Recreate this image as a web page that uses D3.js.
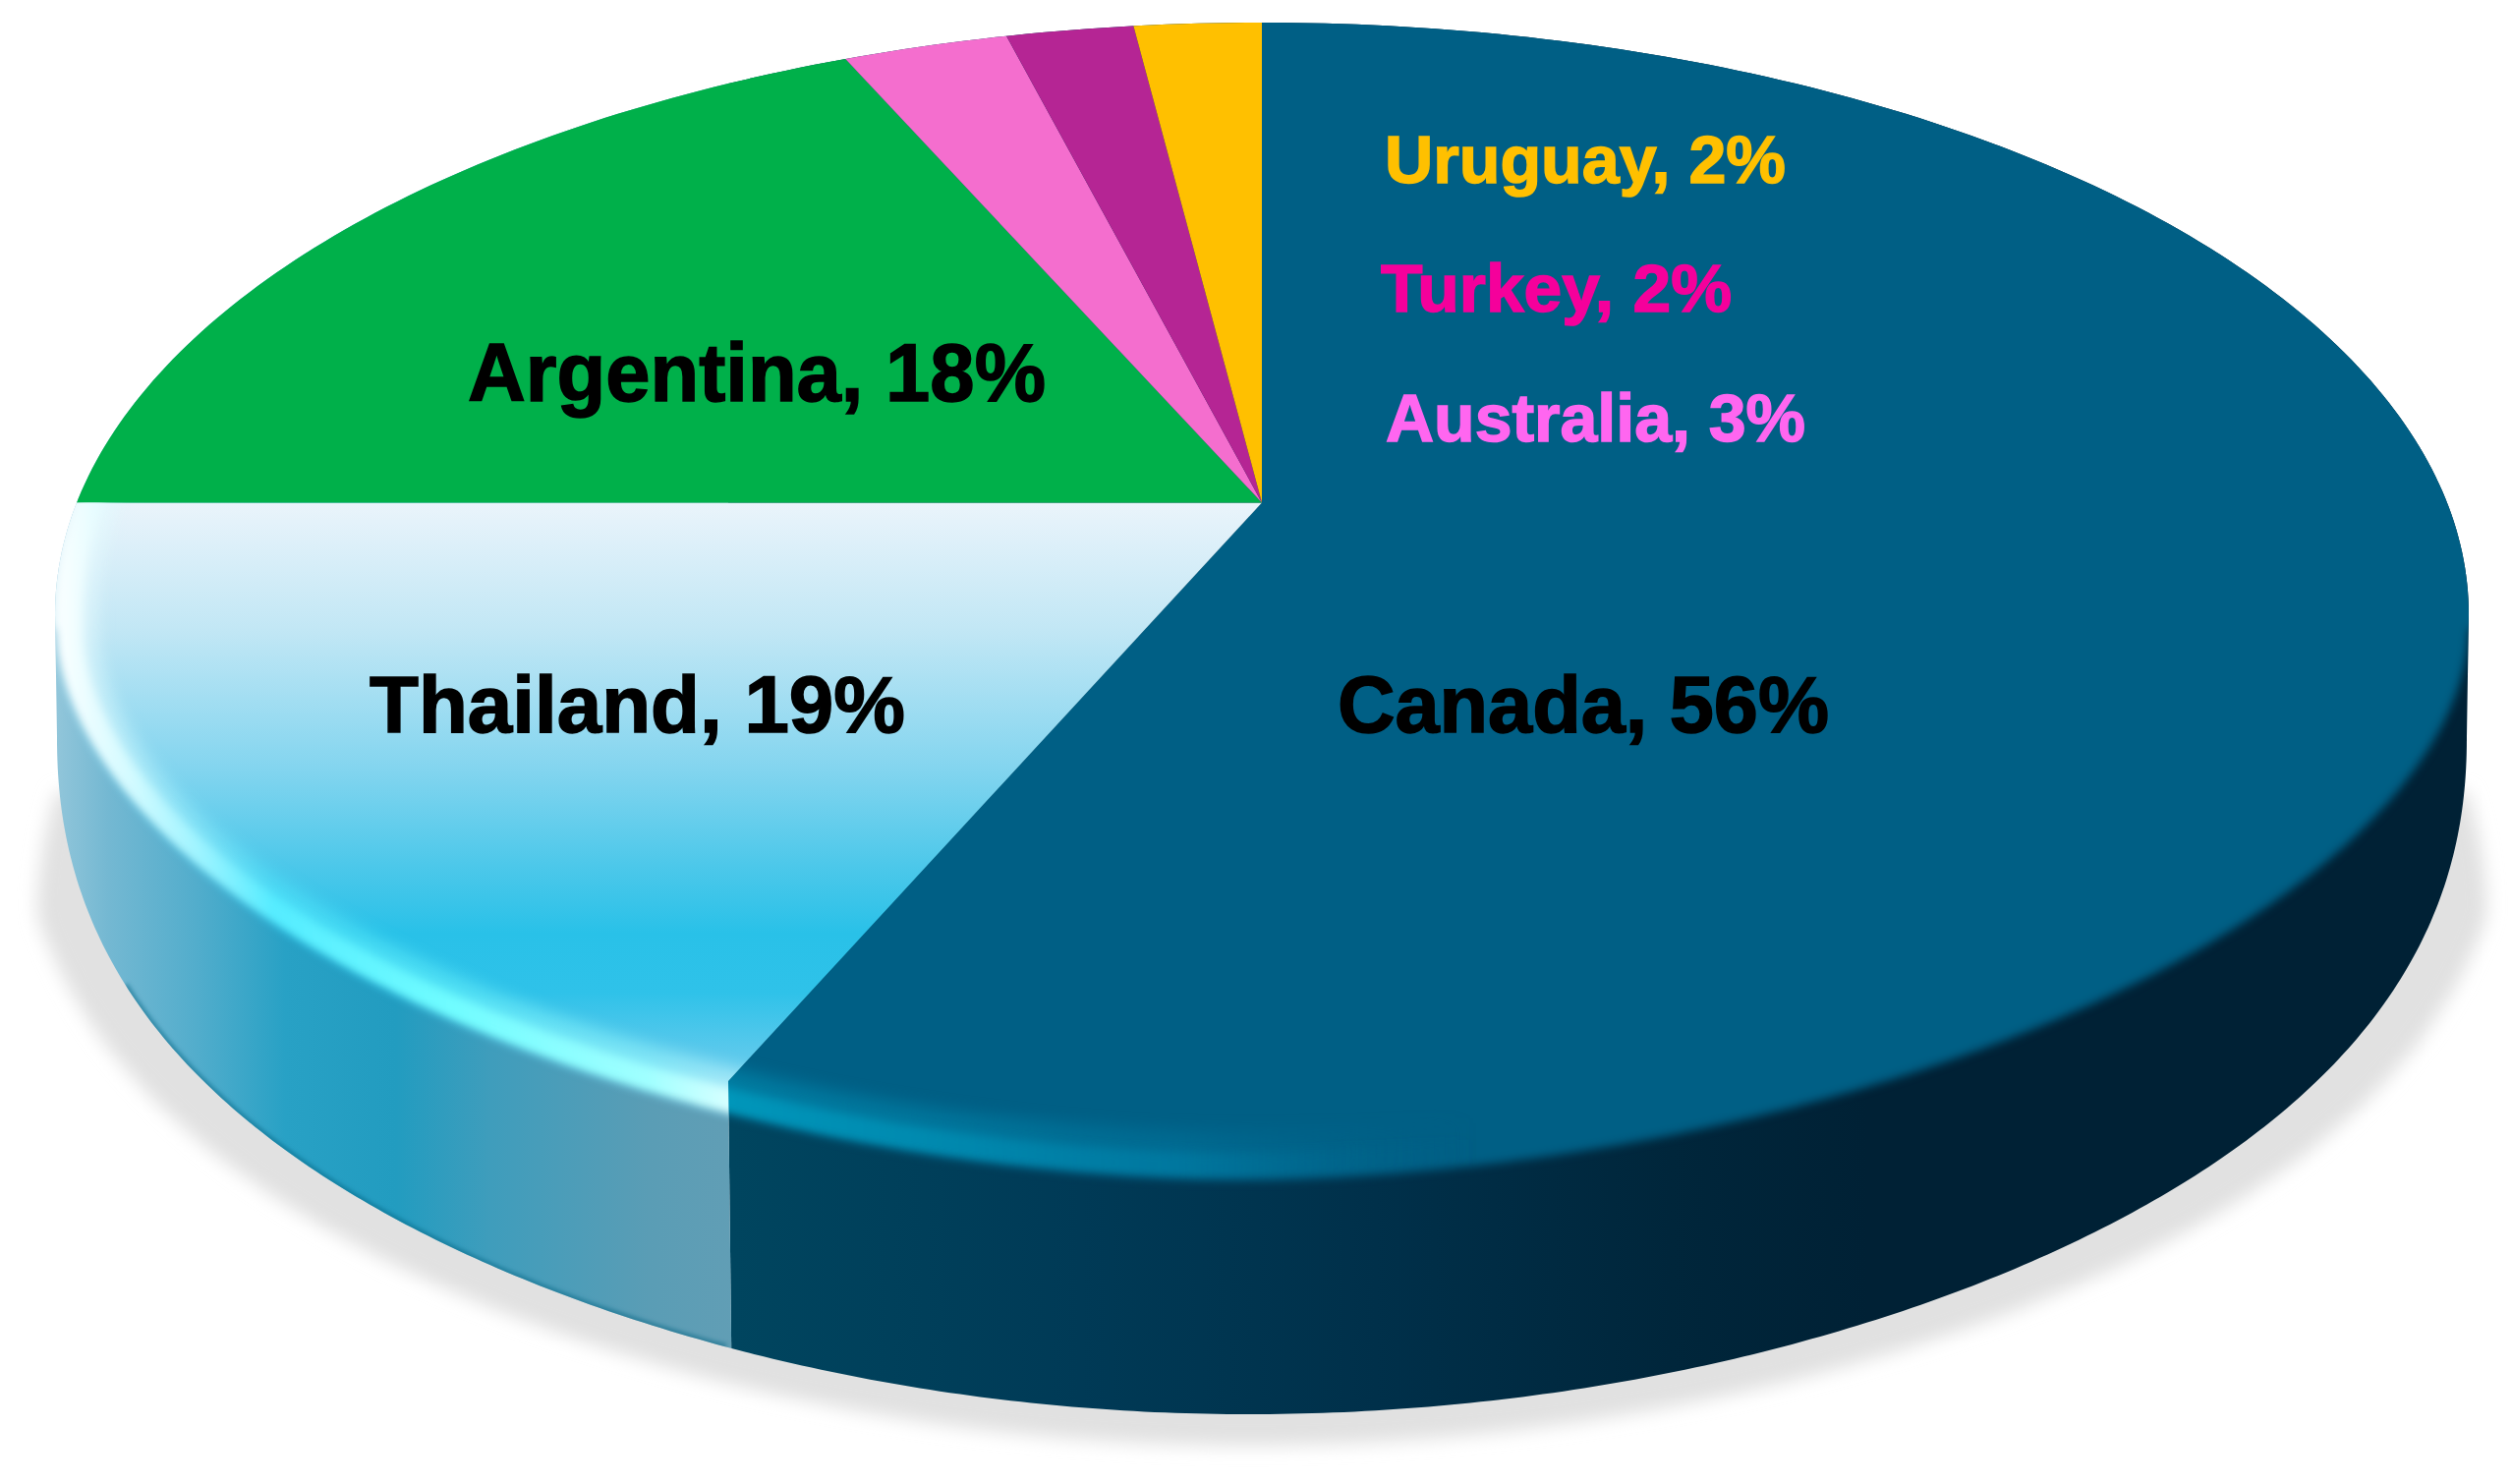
<!DOCTYPE html>
<html><head><meta charset="utf-8">
<script src="https://cdn.jsdelivr.net/npm/d3@7/dist/d3.min.js"></script>
<style>html,body{margin:0;padding:0;background:#fff}svg{display:block}</style>
</head><body><svg id="c" width="2555" height="1510"></svg>
<script>
// ---- data (clockwise from 12 o'clock) ----
const countries = ["Canada","Thailand","Argentina","Australia","Turkey","Uruguay"];
const shares    = [56.5, 18.5, 18.4, 2.6, 2.0, 2.0];
const labels    = ["Canada, 56%","Thailand, 19%","Argentina, 18%","Australia, 3%","Turkey, 2%","Uruguay, 2%"];
const faceFills = ["#005f85","url(#thaiFace)","#00b04a","#f46ece","#b52594","#ffc000"];
const labelInk  = ["#000","#000","#000","#ff66f0","#f5009b","#ffc000"];
// ---- label placement ----
const labelX    = [1361,376,476,1410,1405,1409];
const labelY    = [745,745,408,449,317,186];
const labelW    = [500,545,588,427,357,408];
const labelSize = [81,81,84,68,68,68];

const svg = d3.select("#c"), defs = svg.append("defs");
const line = d3.line();
const apex = [1284,511.5], K = .163, A = 1211, B = 568;
const CX = 1284, CY = 625, RX = 1228, RTOP = 602;
const project = (t, s = 1) => { const u = Math.sin(t), v = -Math.cos(t), w = 1 - K*v;
  return [apex[0] + s*A*u/w, apex[1] + s*B*v/w]; };
const pie = d3.pie().sort(null)(shares);

// the Canada/Thailand edge runs straight to the bevel, then drops down the wall
const edge = project(pie[0].endAngle), bevelX = 741;
const bend = [bevelX, apex[1] + (edge[1]-apex[1])*(bevelX-apex[0])/(edge[0]-apex[0])];
const foot = [bevelX+7, 1700];
const arcPts = d => d3.range(0,41).map(i => project(d.startAngle + (d.endAngle-d.startAngle)*i/40, 1.5));
const wedgePts = (d,i) => {
  if (i === 0) return [apex, ...arcPts(d).filter(p => p[0] > foot[0] || p[1] < 900), foot, bend];
  if (i === 1) return [apex, bend, foot, ...arcPts(d).filter(p => p[0] < bevelX)];
  return [apex, ...arcPts(d)];
};

const phis = d3.range(-180,181).map(i => i/180*Math.PI/2);   // left to right, dense at the ends
// front rim of the top face
const rim = (dx=0, dy=0) => phis.map(f => { const d = Math.sin(f), s = Math.abs(d), p = 1.85,
   rx = (d<0 ? 1199 : 1257) - dx;
   return [1255 + rx*d, 640 + (561-dy)*Math.pow(1-Math.pow(s,p),1/p)]; });
// lower edge of the side wall
const base = () => phis.map(f => { const d = Math.sin(f), s = Math.abs(d), p = 2+.15*s*s*s,
   rx = d<0 ? 1212 : 1240;
   return [1270 + rx*d, 750 + 689*Math.pow(1-Math.pow(s,p),1/p)]; });
const topArc = (rx=RX, a0=Math.PI, a1=0, ry=RTOP) => d3.range(0,241).map(i => { const a = a0+(a1-a0)*i/240; return [CX+rx*Math.cos(a), CY-ry*Math.sin(a)]; });

defs.append("clipPath").attr("id","sil").append("path").attr("d", line([...topArc(), ...base().reverse()])+"Z");
const hGrad = (id, stops) => { const g = defs.append("linearGradient").attr("id",id).attr("gradientUnits","userSpaceOnUse")
   .attr("x1",0).attr("x2",2555).attr("y1",0).attr("y2",0);
   stops.forEach(([x,c,o]) => g.append("stop").attr("offset",x/2555).attr("stop-color",c).attr("stop-opacity",o===undefined?1:o)); };
const vg = defs.append("linearGradient").attr("id","thaiFace").attr("gradientUnits","userSpaceOnUse")
   .attr("x1",0).attr("x2",0).attr("y1",511).attr("y2",1130);
[[511,"#eaf4fb"],[640,"#c2e7f5"],[780,"#84d5ef"],[880,"#4dc8ea"],[950,"#29c1e8"],[1010,"#2fc2e9"],[1070,"#5ac9ec"],[1130,"#78d2f1"]]
  .forEach(([y,c]) => vg.append("stop").attr("offset",(y-511)/619).attr("stop-color",c));
hGrad("thaiSide",[[56,"#92c6da"],[110,"#74b8d2"],[200,"#52adcc"],[290,"#28a1c5"],[403,"#229cc0"],[500,"#3f9dbc"],[660,"#5a9db5"],[746,"#619eb5"]]);
hGrad("canSide",[[746,"#00455f"],[1100,"#003a56"],[1400,"#00304a"],[1700,"#00263b"],[1900,"#002135"],[2555,"#002135"]]);
hGrad("thaiBand",[[50,"#ffffff"],[130,"#d5fbff"],[200,"#a0f4ff"],[279,"#55ecff"],[457,"#6ffcff"],[660,"#a0ffff"],[745,"#d8ffff"]]);
hGrad("canBand",[[740,"#0096ba"],[1000,"#0086ac"],[1200,"#007aa2",.8],[1500,"#005f85",0],[2555,"#005f85",0]]);
const blur = (id, s) => defs.append("filter").attr("id",id).attr("x","-5%").attr("y","-5%").attr("width","110%").attr("height","110%")
   .append("feGaussianBlur").attr("stdDeviation",s);
blur("b2",2); blur("b5",5); blur("b8",8); blur("b9",9);
// region above the front rim, softened so the rim melts into the side
defs.append("mask").attr("id","face").attr("maskUnits","userSpaceOnUse")
   .attr("x",0).attr("y",-200).attr("width",2555).attr("height",1900)
   .append("path").attr("fill","#fff").attr("filter","url(#b5)")
   .attr("d", line([...rim(),[2700,640],[2700,-150],[-100,-150],[-100,640]])+"Z");

// drop shadow, tapering into the wall near the top
const shadowPts = base().filter(p => p[1] > 770).map(([x,y]) => {
  const k = 1 + .035*Math.min(1, (y-770)/130); return [1270+(x-1270)*k, y+32]; });
svg.append("path").attr("fill","#e1e1e1").attr("filter","url(#b9)").attr("d", line(shadowPts)+"Z");

const body = svg.append("g").attr("clip-path","url(#sil)");
// sides of the two front slices
body.append("path").attr("fill","url(#canSide)")
   .attr("d", line([bend,foot,[2700,1700],[2700,-100],[bevelX,-100]])+"Z");
body.append("path").attr("fill","url(#thaiSide)")
   .attr("d", line([bend,foot,[-100,1700],[-100,-100],[bevelX,-100]])+"Z");
// darker lip along the base edge of the light slice
body.append("path").attr("d", line(base().filter(p => p[0] < bevelX && p[1] > 1000))).attr("fill","none")
   .attr("stroke","#00607f").attr("stroke-opacity",.5).attr("stroke-width",6).attr("filter","url(#b2)");

const face = body.append("g").attr("mask","url(#face)");
face.selectAll("path.slice").data(pie).join("path").attr("class","slice")
   .attr("d", (d,i) => line(wedgePts(d,i))+"Z")
   .attr("fill", (d,i) => faceFills[i]);
// bevel highlight along the front rim, clipped per slice: a wide soft glow and a tighter core
[0,1].forEach(i => {
  defs.append("clipPath").attr("id","w"+i).append("path").attr("d", line(wedgePts(pie[i],i))+"Z");
  const g = face.append("g").attr("clip-path","url(#w"+i+")");
  [[44,50,.5,"b8"],[28,28,1,"b5"]].forEach(([dx,dy,op,f]) => {
    const lead = i ? topArc(RX, Math.PI-.24, Math.PI) : [];
    const back = i ? topArc(RX-dx, Math.PI, Math.PI-.24) : [];
    g.append("path").attr("filter","url(#"+f+")").attr("opacity",op)
      .attr("fill", i ? "url(#thaiBand)" : "url(#canBand)")
      .attr("d", line([...lead, ...rim(), ...rim(dx,dy).reverse(), ...back])+"Z");
  });
});

svg.selectAll("text").data(labels).join("text").text(d => d)
   .attr("x",(d,i) => labelX[i]).attr("y",(d,i) => labelY[i])
   .attr("textLength",(d,i) => labelW[i]).attr("lengthAdjust","spacingAndGlyphs")
   .attr("font-family","'Liberation Sans',Arial,sans-serif").attr("font-weight",700)
   .attr("font-size",(d,i) => labelSize[i])
   .attr("fill",(d,i) => labelInk[i]).attr("stroke",(d,i) => labelInk[i]).attr("stroke-width",1.5);
</script></body></html>
